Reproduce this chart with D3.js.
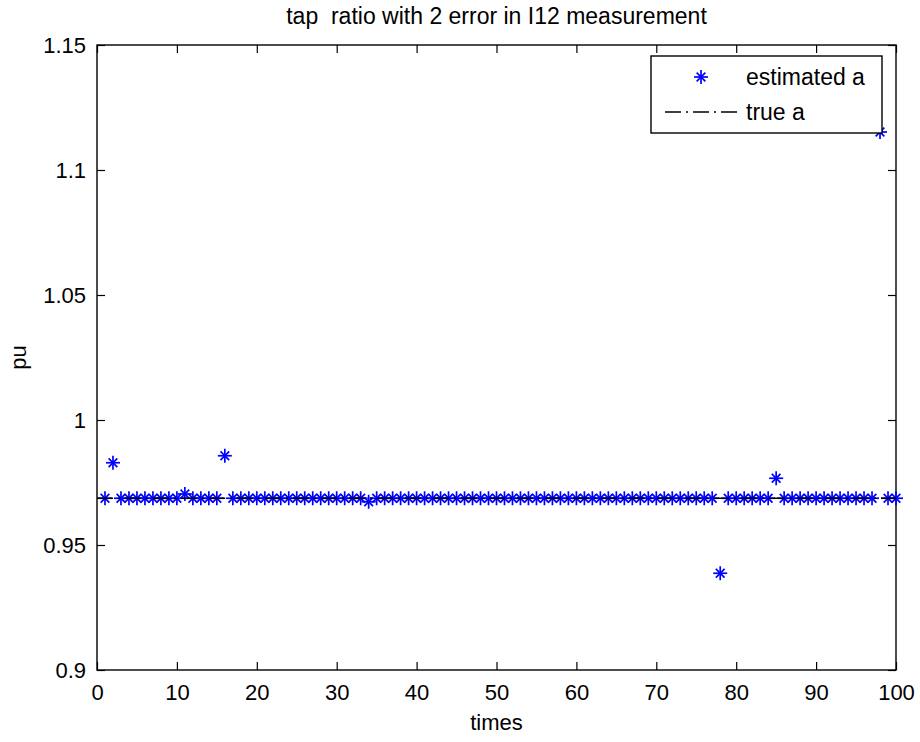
<!DOCTYPE html>
<html>
<head>
<meta charset="utf-8">
<script src="https://cdn.jsdelivr.net/npm/d3@7"></script>
<style>
    body { margin: 0; background: #fff; }
    text { font-family: "Liberation Sans", Arial, sans-serif; fill: #000; }
</style>
</head>
<body>
<div id="chart"></div>
<script>
// chart data
const times = [
    1, 2, 3, 4, 5, 6, 7, 8, 9, 10,
    11, 12, 13, 14, 15, 16, 17, 18, 19, 20,
    21, 22, 23, 24, 25, 26, 27, 28, 29, 30,
    31, 32, 33, 34, 35, 36, 37, 38, 39, 40,
    41, 42, 43, 44, 45, 46, 47, 48, 49, 50,
    51, 52, 53, 54, 55, 56, 57, 58, 59, 60,
    61, 62, 63, 64, 65, 66, 67, 68, 69, 70,
    71, 72, 73, 74, 75, 76, 77, 78, 79, 80,
    81, 82, 83, 84, 85, 86, 87, 88, 89, 90,
    91, 92, 93, 94, 95, 96, 97, 98, 99, 100
];
const estimatedA = [
    0.9687, 0.9829, 0.9687, 0.9687, 0.9687, 0.9687, 0.9687, 0.9687, 0.9687, 0.9687,
    0.9704, 0.9687, 0.9687, 0.9687, 0.9687, 0.9857, 0.9687, 0.9687, 0.9687, 0.9687,
    0.9687, 0.9687, 0.9687, 0.9687, 0.9687, 0.9687, 0.9687, 0.9687, 0.9687, 0.9687,
    0.9687, 0.9687, 0.9687, 0.9673, 0.9687, 0.9687, 0.9687, 0.9687, 0.9687, 0.9687,
    0.9687, 0.9687, 0.9687, 0.9687, 0.9687, 0.9687, 0.9687, 0.9687, 0.9687, 0.9687,
    0.9687, 0.9687, 0.9687, 0.9687, 0.9687, 0.9687, 0.9687, 0.9687, 0.9687, 0.9687,
    0.9687, 0.9687, 0.9687, 0.9687, 0.9687, 0.9687, 0.9687, 0.9687, 0.9687, 0.9687,
    0.9687, 0.9687, 0.9687, 0.9687, 0.9687, 0.9687, 0.9687, 0.9387, 0.9687, 0.9687,
    0.9687, 0.9687, 0.9687, 0.9687, 0.9767, 0.9687, 0.9687, 0.9687, 0.9687, 0.9687,
    0.9687, 0.9687, 0.9687, 0.9687, 0.9687, 0.9687, 0.9687, 1.1152, 0.9687, 0.9687
];
const trueTimes = [0, 100];
const trueA = [0.9687, 0.9687];

const xTicks = [0, 10, 20, 30, 40, 50, 60, 70, 80, 90, 100];
const yTicks = [0.9, 0.95, 1, 1.05, 1.1, 1.15];
const yTickLabels = ["0.9", "0.95", "1", "1.05", "1.1", "1.15"];

const titleText = "tap\u00a0\u00a0ratio with 2 error in I12 measurement";
const xLabel = "times";
const yLabel = "pu";
const legendLabels = ["estimated a", "true a"];

// layout
const width = 920, height = 742;
const margin = { top: 45, right: 24, bottom: 72, left: 97 };
const plotW = width - margin.left - margin.right;
const plotH = height - margin.top - margin.bottom;
const fontSize = 22;
const tickLen = 8;

const svg = d3.select("#chart").append("svg")
    .attr("width", width)
    .attr("height", height);

svg.append("rect").attr("width", width).attr("height", height).attr("fill", "#fff");

const g = svg.append("g")
    .attr("transform", "translate(" + margin.left + "," + margin.top + ")");

const x = d3.scaleLinear().domain([0, 100]).range([0, plotW]);
const y = d3.scaleLinear().domain([0.9, 1.15]).range([plotH, 0]);

// axes (ticks pointing inward, like matlab)
const xAxis = d3.axisBottom(x).tickValues(xTicks).tickSize(-tickLen).tickPadding(14).tickFormat(d3.format("d"));
const yAxis = d3.axisLeft(y).tickValues(yTicks).tickSize(-tickLen).tickPadding(11)
    .tickFormat((d, i) => yTickLabels[i]);

g.append("g").attr("transform", "translate(0," + plotH + ")").call(xAxis);
g.append("g").call(yAxis);
g.append("g").call(d3.axisTop(x).tickValues(xTicks).tickSize(-tickLen).tickFormat(""));
g.append("g").attr("transform", "translate(" + plotW + ",0)")
    .call(d3.axisRight(y).tickValues(yTicks).tickSize(-tickLen).tickFormat(""));

g.selectAll(".domain").remove();
g.selectAll(".tick line").attr("stroke", "#000").attr("stroke-width", 1.2);
g.selectAll(".tick text")
    .style("font-size", fontSize + "px")
    .attr("fill", "#000");

// box
g.append("rect")
    .attr("width", plotW).attr("height", plotH)
    .attr("fill", "none").attr("stroke", "#000").attr("stroke-width", 1.4);

// asterisk marker
function star(sel, size) {
    const a = size, b = size * 0.62;
    sel.append("line").attr("x1", -a).attr("x2", a).attr("y1", 0).attr("y2", 0);
    sel.append("line").attr("x1", 0).attr("x2", 0).attr("y1", -a).attr("y2", a);
    sel.append("line").attr("x1", -b).attr("x2", b).attr("y1", -b).attr("y2", b);
    sel.append("line").attr("x1", -b).attr("x2", b).attr("y1", b).attr("y2", -b);
}

const points = g.append("g")
    .attr("stroke", "#0000ff").attr("stroke-width", 1.7)
    .selectAll("g.pt")
    .data(times.map((t, i) => ({ t: t, v: estimatedA[i] })))
    .enter().append("g")
    .attr("class", "pt")
    .attr("transform", d => "translate(" + x(d.t) + "," + y(d.v) + ")");
points.each(function() { star(d3.select(this), 7); });

// true value line
const line = d3.line().x(d => x(d.t)).y(d => y(d.v));
g.append("path")
    .datum(trueTimes.map((t, i) => ({ t: t, v: trueA[i] })))
    .attr("d", line)
    .attr("fill", "none")
    .attr("stroke", "#000")
    .attr("stroke-width", 1.4)
    .attr("stroke-dasharray", "16,5,2,5");

// legend
const legend = svg.append("g").attr("transform", "translate(651,56)");
legend.append("rect")
    .attr("width", 231).attr("height", 77)
    .attr("fill", "#fff").attr("stroke", "#000").attr("stroke-width", 1.4);
const lm = legend.append("g").attr("transform", "translate(50,21)")
    .attr("stroke", "#0000ff").attr("stroke-width", 1.7);
star(lm, 7);
legend.append("line")
    .attr("x1", 14).attr("x2", 90).attr("y1", 56).attr("y2", 56)
    .attr("stroke", "#000").attr("stroke-width", 1.4)
    .attr("stroke-dasharray", "16,5,2,5");
legend.selectAll("text.lbl")
    .data(legendLabels)
    .enter().append("text")
    .attr("class", "lbl")
    .attr("x", 95)
    .attr("y", (d, i) => 29 + i * 35)
    .style("font-size", (fontSize + 1) + "px")
    .text(d => d);

// titles
svg.append("text")
    .attr("x", margin.left + plotW / 2)
    .attr("y", 24)
    .attr("text-anchor", "middle")
    .style("font-size", (fontSize + 1) + "px")
    .text(titleText);

svg.append("text")
    .attr("x", margin.left + plotW / 2)
    .attr("y", 730)
    .attr("text-anchor", "middle")
    .style("font-size", fontSize + "px")
    .text(xLabel);

svg.append("text")
    .attr("transform", "translate(26," + (margin.top + plotH / 2) + ") rotate(-90)")
    .attr("text-anchor", "middle")
    .style("font-size", fontSize + "px")
    .text(yLabel);
</script>
</body>
</html>
